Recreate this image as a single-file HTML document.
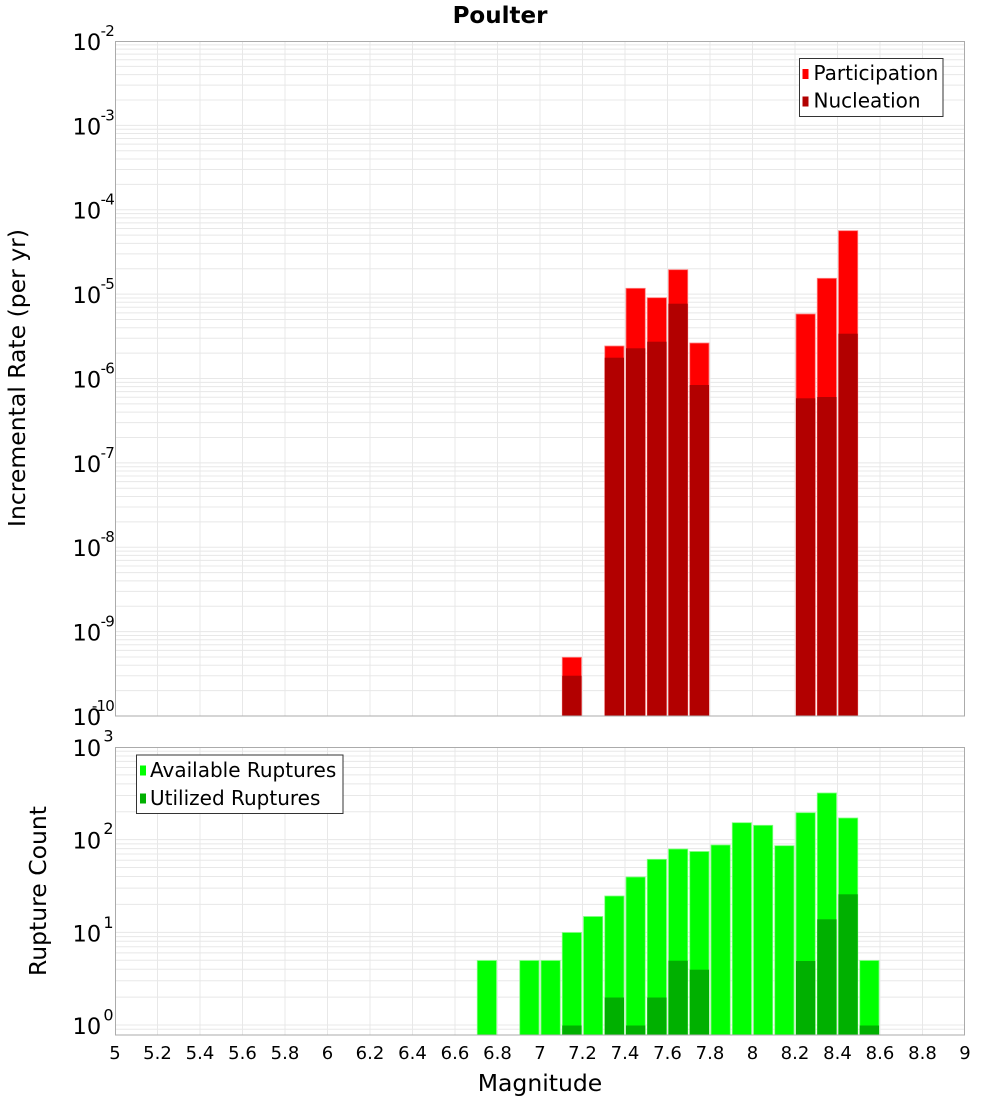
<!DOCTYPE html>
<html>
<head>
<meta charset="utf-8">
<style>
  html,body{margin:0;padding:0;background:#fff;}
  svg{display:block;}
  text{font-family:"DejaVu Sans","Liberation Sans",sans-serif;fill:#000;}
</style>
</head>
<body>
<svg width="1000" height="1100" viewBox="0 0 1000 1100" xmlns="http://www.w3.org/2000/svg">
  <rect x="0" y="0" width="1000" height="1100" fill="#fff"/>

  <!-- Title -->
  <text x="500" y="23" font-size="23" font-weight="bold" text-anchor="middle">Poulter</text>

  <!-- ===== TOP PLOT ===== -->
  <g stroke="#e8e8e8" stroke-width="1" fill="none">
    <path d="M115 690.6H965M115 675.74H965M115 665.2H965M115 657.03H965M115 650.35H965M115 644.69H965M115 639.8H965M115 635.49H965
             M115 631.63H965M115 606.23H965M115 591.37H965M115 580.83H965M115 572.66H965M115 565.98H965M115 560.32H965M115 555.43H965M115 551.12H965
             M115 547.25H965M115 521.85H965M115 506.99H965M115 496.45H965M115 488.28H965M115 481.6H965M115 475.94H965M115 471.05H965M115 466.74H965
             M115 462.88H965M115 437.48H965M115 422.62H965M115 412.08H965M115 403.91H965M115 397.23H965M115 391.57H965M115 386.68H965M115 382.37H965
             M115 378.5H965M115 353.1H965M115 338.24H965M115 327.7H965M115 319.53H965M115 312.85H965M115 307.19H965M115 302.3H965M115 297.99H965
             M115 294.13H965M115 268.73H965M115 253.87H965M115 243.33H965M115 235.16H965M115 228.48H965M115 222.82H965M115 217.93H965M115 213.62H965
             M115 209.75H965M115 184.35H965M115 169.49H965M115 158.95H965M115 150.78H965M115 144.1H965M115 138.44H965M115 133.55H965M115 129.24H965
             M115 125.38H965M115 99.98H965M115 85.12H965M115 74.58H965M115 66.41H965M115 59.73H965M115 54.07H965M115 49.18H965M115 44.87H965"/>
    <path d="M157.5 41V716M200 41V716M242.5 41V716M285 41V716M327.5 41V716M370 41V716M412.5 41V716M455 41V716M497.5 41V716M540 41V716
             M582.5 41V716M625 41V716M667.5 41V716M710 41V716M752.5 41V716M795 41V716M837.5 41V716M880 41V716M922.5 41V716"/>
  </g>

  <!-- Participation bars -->
  <g fill="#ff0000" stroke="#ff8080" stroke-width="0.8">
    <rect x="562.25" y="657.3" width="19.25" height="58.7"/>
    <rect x="604.75" y="346" width="19.25" height="370"/>
    <rect x="626" y="288.3" width="19.25" height="427.7"/>
    <rect x="647.25" y="297.7" width="19.25" height="418.3"/>
    <rect x="668.5" y="269.7" width="19.25" height="446.3"/>
    <rect x="689.75" y="343" width="19.25" height="373"/>
    <rect x="796" y="314" width="19.25" height="402"/>
    <rect x="817.25" y="278.3" width="19.25" height="437.7"/>
    <rect x="838.5" y="230.7" width="19.25" height="485.3"/>
  </g>
  <!-- Nucleation bars -->
  <g fill="#b20000">
    <rect x="562.25" y="675.7" width="19.25" height="40.3"/>
    <rect x="604.75" y="357.7" width="19.25" height="358.3"/>
    <rect x="626" y="348.3" width="19.25" height="367.7"/>
    <rect x="647.25" y="341.7" width="19.25" height="374.3"/>
    <rect x="668.5" y="303.7" width="19.25" height="412.3"/>
    <rect x="689.75" y="385" width="19.25" height="331"/>
    <rect x="796" y="398.3" width="19.25" height="317.7"/>
    <rect x="817.25" y="397" width="19.25" height="319"/>
    <rect x="838.5" y="333.7" width="19.25" height="382.3"/>
  </g>

  <rect x="115.5" y="41.5" width="849" height="674.5" fill="none" stroke="#ababab" stroke-width="1"/>

  <!-- top legend -->
  <rect x="799.5" y="58.5" width="143.5" height="58" fill="#fff" stroke="#333" stroke-width="1"/>
  <rect x="802.5" y="69" width="6" height="10" fill="#ff0000"/>
  <rect x="802.5" y="96.5" width="6" height="10" fill="#b20000"/>
  <text x="813.5" y="80" font-size="20">Participation</text>
  <text x="813.5" y="107.5" font-size="20">Nucleation</text>

  <!-- top y tick labels -->
  <g font-size="22.5" text-anchor="end">
    <text x="101.2" y="50">10</text>
    <text x="101.2" y="134.4">10</text>
    <text x="101.2" y="218.7">10</text>
    <text x="101.2" y="303.1">10</text>
    <text x="101.2" y="387.5">10</text>
    <text x="101.2" y="471.9">10</text>
    <text x="101.2" y="556.2">10</text>
    <text x="101.2" y="640.6">10</text>
    <text x="101.2" y="725">10</text>
  </g>
  <g font-size="15" text-anchor="end" letter-spacing="-0.8">
    <text x="114" y="36">-2</text>
    <text x="114" y="120.4">-3</text>
    <text x="114" y="204.7">-4</text>
    <text x="114" y="289.1">-5</text>
    <text x="114" y="373.5">-6</text>
    <text x="114" y="457.9">-7</text>
    <text x="114" y="542.2">-8</text>
    <text x="114" y="626.6">-9</text>
    <text x="114" y="711">-10</text>
  </g>

  <text transform="translate(25,378) rotate(-90)" font-size="23.5" text-anchor="middle">Incremental Rate (per yr)</text>

  <!-- ===== BOTTOM PLOT ===== -->
  <g stroke="#e8e8e8" stroke-width="1" fill="none">
    <path d="M115 1029.24H965M115 1025H965M115 997.1H965M115 980.79H965M115 969.21H965M115 960.23H965M115 952.89H965M115 946.69H965M115 941.31H965M115 936.58H965
             M115 932.33H965M115 904.43H965M115 888.12H965M115 876.54H965M115 867.56H965M115 860.22H965M115 854.02H965M115 848.64H965M115 843.91H965
             M115 839.67H965M115 811.77H965M115 795.46H965M115 783.88H965M115 774.9H965M115 767.56H965M115 761.36H965M115 755.98H965M115 751.25H965"/>
    <path d="M157.5 747V1035M200 747V1035M242.5 747V1035M285 747V1035M327.5 747V1035M370 747V1035M412.5 747V1035M455 747V1035M497.5 747V1035M540 747V1035
             M582.5 747V1035M625 747V1035M667.5 747V1035M710 747V1035M752.5 747V1035M795 747V1035M837.5 747V1035M880 747V1035M922.5 747V1035"/>
  </g>

  <!-- Available -->
  <g fill="#00ff00" stroke="#80ff80" stroke-width="0.8">
    <rect x="477.25" y="960.5" width="19.25" height="74.5"/>
    <rect x="519.75" y="960.5" width="19.25" height="74.5"/>
    <rect x="541" y="960.5" width="19.25" height="74.5"/>
    <rect x="562.25" y="932.5" width="19.25" height="102.5"/>
    <rect x="583.5" y="916.5" width="19.25" height="118.5"/>
    <rect x="604.75" y="896" width="19.25" height="139"/>
    <rect x="626" y="877" width="19.25" height="158"/>
    <rect x="647.25" y="859.3" width="19.25" height="175.7"/>
    <rect x="668.5" y="849" width="19.25" height="186"/>
    <rect x="689.75" y="851.5" width="19.25" height="183.5"/>
    <rect x="711" y="845" width="19.25" height="190"/>
    <rect x="732.25" y="822.7" width="19.25" height="212.3"/>
    <rect x="753.5" y="825.3" width="19.25" height="209.7"/>
    <rect x="774.75" y="845.7" width="19.25" height="189.3"/>
    <rect x="796" y="812.7" width="19.25" height="222.3"/>
    <rect x="817.25" y="793" width="19.25" height="242"/>
    <rect x="838.5" y="818" width="19.25" height="217"/>
    <rect x="859.75" y="960.5" width="19.25" height="74.5"/>
  </g>
  <!-- Utilized -->
  <g fill="#00b000">
    <rect x="562.25" y="1025.5" width="19.25" height="9.5"/>
    <rect x="604.75" y="997.5" width="19.25" height="37.5"/>
    <rect x="626" y="1025.5" width="19.25" height="9.5"/>
    <rect x="647.25" y="997.5" width="19.25" height="37.5"/>
    <rect x="668.5" y="960.7" width="19.25" height="74.3"/>
    <rect x="689.75" y="969.7" width="19.25" height="65.3"/>
    <rect x="796" y="961" width="19.25" height="74"/>
    <rect x="817.25" y="919.3" width="19.25" height="115.7"/>
    <rect x="838.5" y="894.3" width="19.25" height="140.7"/>
    <rect x="859.75" y="1025.5" width="19.25" height="9.5"/>
  </g>

  <rect x="115.5" y="747.5" width="849" height="287.5" fill="none" stroke="#ababab" stroke-width="1"/>

  <!-- bottom legend -->
  <rect x="136.5" y="755" width="206.5" height="58.5" fill="#fff" stroke="#333" stroke-width="1"/>
  <rect x="140" y="765.5" width="6" height="10" fill="#00ff00"/>
  <rect x="140" y="793.5" width="6" height="10" fill="#00b000"/>
  <text x="150" y="777" font-size="20">Available Ruptures</text>
  <text x="150" y="805" font-size="20">Utilized Ruptures</text>

  <!-- bottom y tick labels -->
  <g font-size="22.5" text-anchor="end">
    <text x="101.2" y="756">10</text>
    <text x="101.2" y="848.7">10</text>
    <text x="101.2" y="941.3">10</text>
    <text x="101.2" y="1034">10</text>
  </g>
  <g font-size="16" text-anchor="end">
    <text x="113.5" y="741.5">3</text>
    <text x="113.5" y="834.2">2</text>
    <text x="113.5" y="927.8">1</text>
    <text x="113.5" y="1020.5">0</text>
  </g>

  <text transform="translate(46,891) rotate(-90)" font-size="23.5" text-anchor="middle">Rupture Count</text>

  <!-- x tick labels -->
  <g font-size="18" text-anchor="middle">
    <text x="115" y="1059">5</text>
    <text x="157.5" y="1059">5.2</text>
    <text x="200" y="1059">5.4</text>
    <text x="242.5" y="1059">5.6</text>
    <text x="285" y="1059">5.8</text>
    <text x="327.5" y="1059">6</text>
    <text x="370" y="1059">6.2</text>
    <text x="412.5" y="1059">6.4</text>
    <text x="455" y="1059">6.6</text>
    <text x="497.5" y="1059">6.8</text>
    <text x="540" y="1059">7</text>
    <text x="582.5" y="1059">7.2</text>
    <text x="625" y="1059">7.4</text>
    <text x="667.5" y="1059">7.6</text>
    <text x="710" y="1059">7.8</text>
    <text x="752.5" y="1059">8</text>
    <text x="795" y="1059">8.2</text>
    <text x="837.5" y="1059">8.4</text>
    <text x="880" y="1059">8.6</text>
    <text x="922.5" y="1059">8.8</text>
    <text x="965" y="1059">9</text>
  </g>

  <text x="540" y="1091" font-size="23.5" text-anchor="middle">Magnitude</text>
</svg>
</body>
</html>
